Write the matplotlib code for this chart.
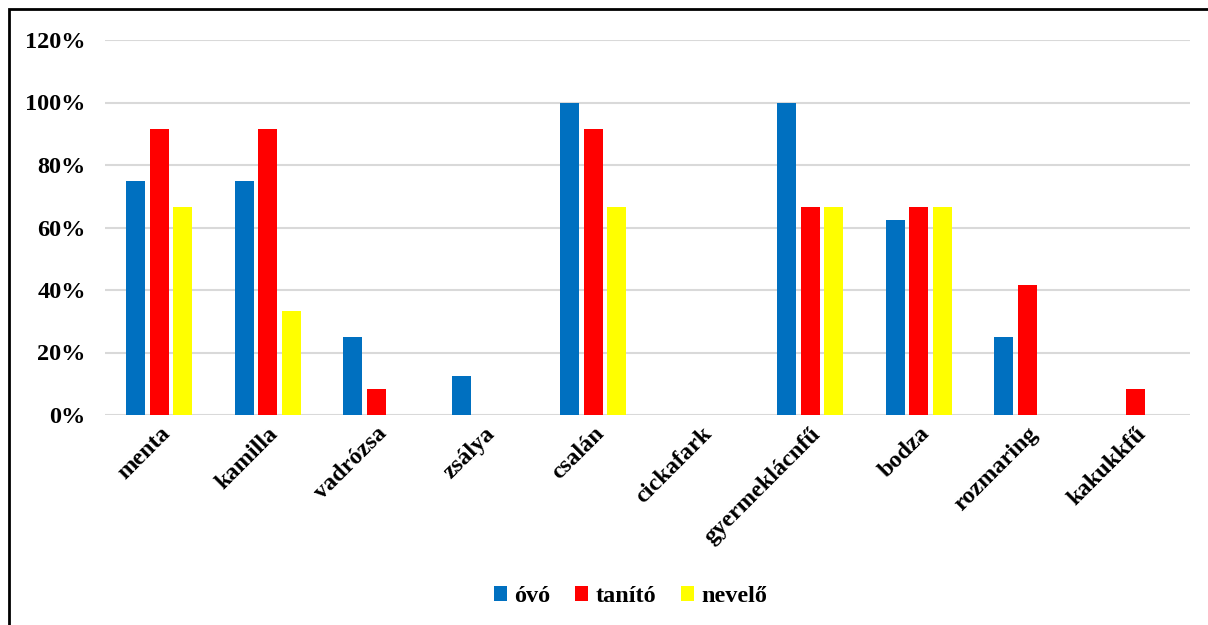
import matplotlib.pyplot as plt
import numpy as np
from matplotlib.patches import Rectangle
from matplotlib.ticker import PercentFormatter

categories = ["menta", "kamilla", "vadrózsa", "zsálya", "csalán", "cickafark",
              "gyermeklácnfű", "bodza", "rozmaring", "kakukkfű"]
ovo = [75, 75, 25, 12.5, 100, 0, 100, 62.5, 25, 0]
tanito = [91.67, 91.67, 8.33, 0, 91.67, 0, 66.67, 66.67, 41.67, 8.33]
nevelo = [66.67, 33.33, 0, 0, 66.67, 0, 66.67, 66.67, 0, 0]
series_names = ["óvó", "tanító", "nevelő"]
colors = ["#0070C0", "#FF0000", "#FFFF00"]

plt.rcParams['font.family'] = ['Liberation Serif', 'DejaVu Serif']
plt.rcParams['font.weight'] = 'bold'

fig = plt.figure(figsize=(12.08, 6.25), dpi=100)
ax = fig.add_axes([0.087, 0.336, 0.898, 0.6])

x = np.arange(len(categories))
width = 0.175
step = 0.217
for i, (vals, name, col) in enumerate(zip([ovo, tanito, nevelo], series_names, colors)):
    ax.bar(x + (i - 1) * step, vals, width, color=col, label=name, zorder=3)

ax.set_xlim(-0.5, len(categories) - 0.5)
ax.set_ylim(0, 120)
ax.set_yticks(np.arange(0, 121, 20))
ax.yaxis.set_major_formatter(PercentFormatter(decimals=0))
ax.grid(axis='y', color='#d9d9d9', linewidth=1.5, zorder=0)
for s in ax.spines.values():
    s.set_visible(False)
ax.tick_params(axis='both', length=0, labelsize=17.5)
ax.tick_params(axis='y', pad=14)
ax.tick_params(axis='x', pad=6)
ax.set_xticks(x)
ax.set_xticklabels(categories, rotation=45, ha='right', rotation_mode='anchor', fontweight='bold')
for t in ax.get_yticklabels():
    t.set_fontweight('bold')

leg = ax.legend(loc='center', bbox_to_anchor=(0.522, 0.045), bbox_transform=fig.transFigure,
                ncol=3, frameon=False, fontsize=17.5, handlelength=0.55, handleheight=0.55,
                columnspacing=1.0, handletextpad=0.3)

# outer border (left and top visible)
fig.patches.append(Rectangle((0.0075, -0.05), 1.1, 1.036, transform=fig.transFigure,
                             fill=False, edgecolor='black', linewidth=2))

fig.savefig("out.png", dpi=100)
